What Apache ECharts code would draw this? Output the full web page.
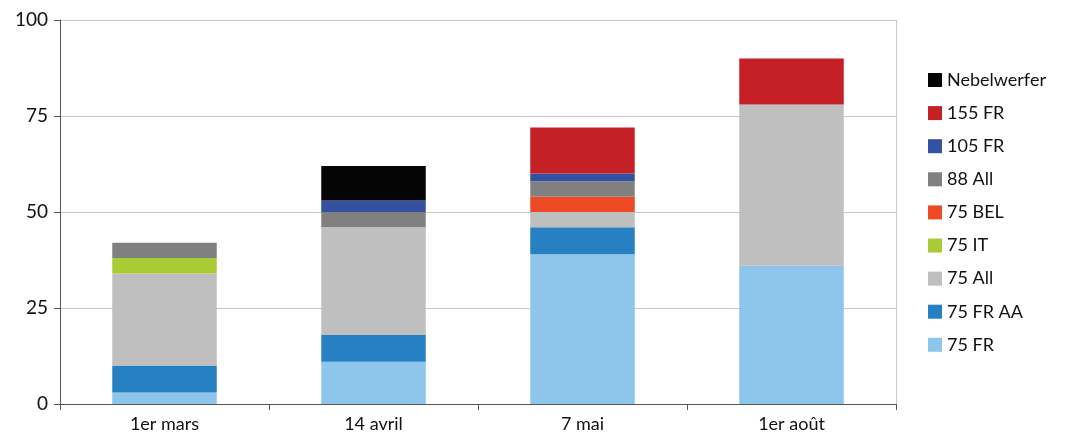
<!DOCTYPE html>
<html>
<head>
<meta charset="utf-8">
<script src="https://cdn.jsdelivr.net/npm/echarts@6/dist/echarts.min.js"></script>
<style>
html, body { margin: 0; padding: 0; background: #fff; }
#chart { width: 1068px; height: 442px; }
</style>
</head>
<body>
<div id="chart"></div>
<script>
// catégories (dates)
var dates = ['1er mars', '14 avril', '7 mai', '1er août'];

// valeurs par type de pièce (null = absent)
var fr75     = [3, 11, 39, 36];
var frAA75   = [7, 7, 7, null];
var all75    = [24, 28, 4, 42];
var it75     = [4, null, null, null];
var bel75    = [null, null, 4, null];
var all88    = [4, 4, 4, null];
var fr105    = [null, 3, 2, null];
var fr155    = [null, null, 12, 12];
var nebel    = [null, 9, null, null];

var yTicks = [0, 25, 50, 75, 100];

var chart = echarts.init(document.getElementById('chart'));

function serie(name, data, color) {
    return {
        name: name,
        type: 'bar',
        stack: 'total',
        data: data,
        barWidth: '50%',
        itemStyle: { color: color }
    };
}

var option = {
    animation: false,
    textStyle: { fontFamily: 'Lato', color: '#000' },
    legend: {
        orient: 'vertical',
        left: 923,
        top: 66,
        itemWidth: 14,
        itemHeight: 14,
        itemGap: 15.1,
        icon: 'rect',
        textStyle: { fontSize: 18, lineHeight: 17, color: '#111', fontFamily: 'Lato' },
        data: ['Nebelwerfer', '155 FR', '105 FR', '88 All', '75 BEL', '75 IT', '75 All', '75 FR AA', '75 FR']
    },
    grid: { left: 60, right: 172, top: 20, bottom: 38 },
    xAxis: {
        type: 'category',
        data: dates,
        axisLine: { lineStyle: { color: '#555', width: 1 } },
        axisTick: { show: true, alignWithLabel: false, length: 6, lineStyle: { color: '#555' } },
        axisLabel: { fontSize: 18, color: '#111', margin: 11, fontFamily: 'Lato' }
    },
    yAxis: [{
        type: 'value',
        min: yTicks[0],
        max: yTicks[yTicks.length - 1],
        interval: 25,
        axisLine: { show: true, lineStyle: { color: '#555', width: 1 } },
        axisTick: { show: true, length: 6, lineStyle: { color: '#555' } },
        axisLabel: { fontSize: 19, color: '#111', margin: 12, fontFamily: 'Lato' },
        splitLine: { lineStyle: { color: '#c8c8c8', width: 1 } }
    }, {
        // bordure droite de la zone de tracé
        type: 'value',
        position: 'right',
        min: yTicks[0],
        max: yTicks[yTicks.length - 1],
        interval: 25,
        axisLine: { show: true, lineStyle: { color: '#c8c8c8', width: 1 } },
        axisTick: { show: false },
        axisLabel: { show: false },
        splitLine: { show: false }
    }],
    series: [
        serie('75 FR', fr75, '#8DC6EA'),
        serie('75 FR AA', frAA75, '#2680C2'),
        serie('75 All', all75, '#BFBFBF'),
        serie('75 IT', it75, '#A9CB36'),
        serie('75 BEL', bel75, '#EE4A25'),
        serie('88 All', all88, '#808080'),
        serie('105 FR', fr105, '#3450A0'),
        serie('155 FR', fr155, '#C42026'),
        serie('Nebelwerfer', nebel, '#050505')
    ]
};

chart.setOption(option);
</script>
</body>
</html>
